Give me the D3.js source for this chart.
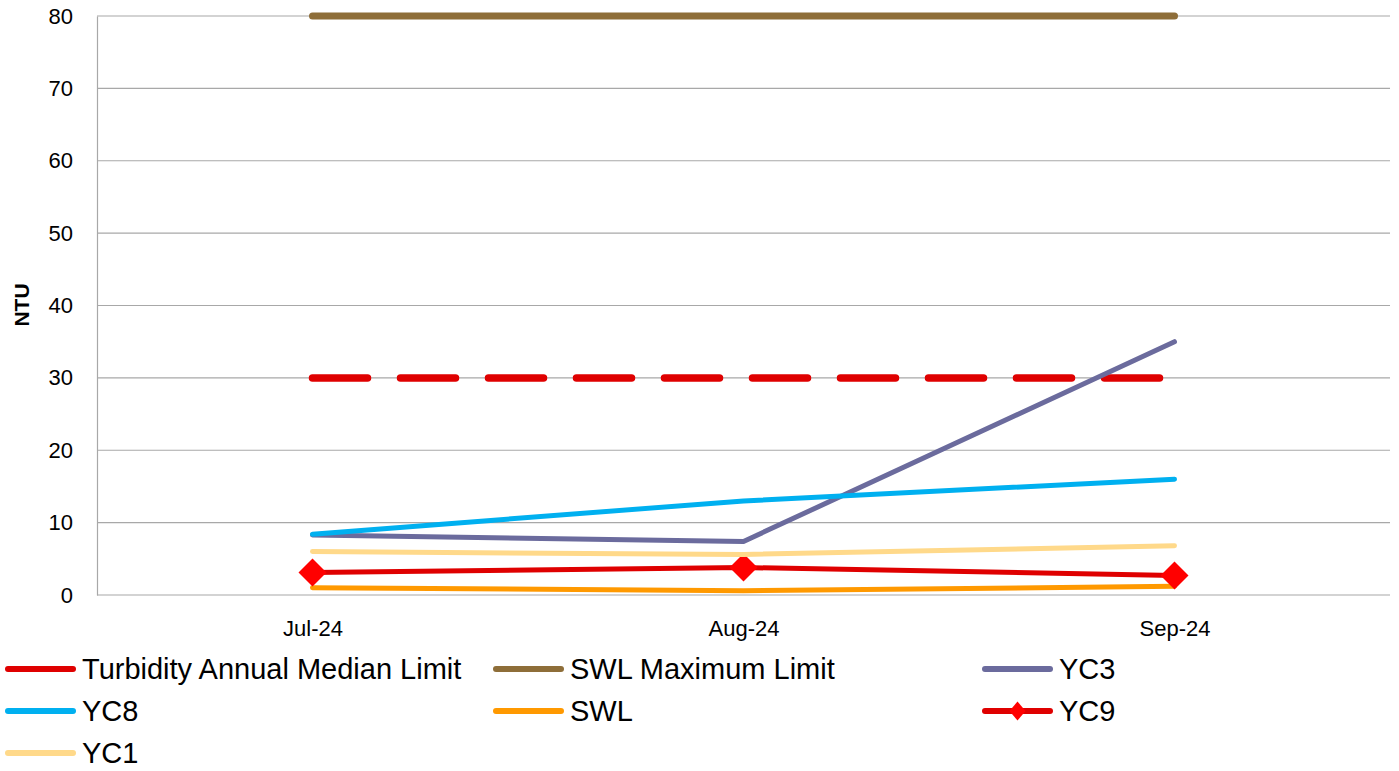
<!DOCTYPE html>
<html>
<head>
<meta charset="utf-8">
<script src="https://cdn.jsdelivr.net/npm/d3@7"></script>
<style>
  html, body { margin: 0; padding: 0; background: #ffffff; }
  svg { display: block; font-family: "Liberation Sans", Arial, sans-serif; }
</style>
</head>
<body>
<svg id="chart" width="1399" height="771"></svg>
<script>
// Monthly turbidity readings (NTU) by site, with the two regulatory limits
const months = ["Jul-24", "Aug-24", "Sep-24"];
const yTicks = [0, 10, 20, 30, 40, 50, 60, 70, 80];

const turbidityMedianLimit = [30, 30, 30];
const swlMaximumLimit = [80, 80, 80];
const yc3 = [8.3, 7.4, 35];
const yc8 = [8.4, 13, 16];
const swl = [1.0, 0.6, 1.2];
const yc9 = [3.1, 3.8, 2.7];
const yc1 = [6.0, 5.6, 6.8];

const seriesNames = ["Turbidity Annual Median Limit", "SWL Maximum Limit", "YC3", "YC8", "SWL", "YC9", "YC1"];

const series = [
  { name: seriesNames[0], values: turbidityMedianLimit, color: "#DF0000", width: 7.5, dash: "55,33" },
  { name: seriesNames[1], values: swlMaximumLimit, color: "#8E6E39", width: 7 },
  { name: seriesNames[2], values: yc3, color: "#6B6B9D", width: 5 },
  { name: seriesNames[3], values: yc8, color: "#00B0F0", width: 5 },
  { name: seriesNames[4], values: swl, color: "#FF9900", width: 5 },
  { name: seriesNames[5], values: yc9, color: "#DF0000", width: 5, marker: "#FF0000" },
  { name: seriesNames[6], values: yc1, color: "#FFD98A", width: 5 }
];

const svg = d3.select("#chart");
const plot = { left: 97, right: 1390, top: 16, bottom: 595 };

const x = d3.scalePoint().domain(months).range([plot.left, plot.right]).padding(0.5);
const y = d3.scaleLinear().domain([0, 80]).range([plot.bottom, plot.top]);

// Horizontal gridlines
svg.append("g")
  .selectAll("line")
  .data(yTicks)
  .join("line")
  .attr("x1", plot.left).attr("x2", plot.right)
  .attr("y1", d => y(d)).attr("y2", d => y(d))
  .attr("stroke", "#A8A8A8").attr("stroke-width", 1.2);

// Y axis line and labels
const yAxis = svg.append("g")
  .attr("transform", `translate(${plot.left},0)`)
  .call(d3.axisLeft(y).tickValues(yTicks).tickSize(0).tickPadding(24));
yAxis.select(".domain").attr("stroke", "#A8A8A8").attr("stroke-width", 1.2);
yAxis.selectAll("text")
  .attr("font-family", "Liberation Sans, Arial, sans-serif")
  .attr("font-size", 22).attr("fill", "#000");

// X axis labels
const xAxis = svg.append("g")
  .attr("transform", `translate(0,${plot.bottom})`)
  .call(d3.axisBottom(x).tickSize(0).tickPadding(25));
xAxis.select(".domain").remove();
xAxis.selectAll("text")
  .attr("font-family", "Liberation Sans, Arial, sans-serif")
  .attr("font-size", 22).attr("fill", "#000");

// Y axis title
svg.append("text")
  .attr("transform", "translate(29,305) rotate(-90)")
  .attr("text-anchor", "middle")
  .attr("font-size", 21).attr("font-weight", "bold")
  .text("NTU");

// Series lines
const line = d3.line()
  .x((d, i) => x(months[i]))
  .y(d => y(d));

const lines = svg.append("g");
series.forEach(s => {
  lines.append("path")
    .datum(s.values)
    .attr("d", line)
    .attr("fill", "none")
    .attr("stroke", s.color)
    .attr("stroke-width", s.width)
    .attr("stroke-linecap", "round")
    .attr("stroke-linejoin", "round")
    .attr("stroke-dasharray", s.dash || null);
  if (s.marker) {
    lines.append("g")
      .selectAll("path")
      .data(s.values)
      .join("path")
      .attr("d", "M0,-14L14,0L0,14L-14,0Z")
      .attr("transform", (d, i) => `translate(${x(months[i])},${y(d)})`)
      .attr("fill", s.marker);
  }
});

// Legend: three columns, filled row by row
const legendCols = [5, 493, 982];
const legendRows = [669, 711, 753];
const legend = svg.append("g");
series.forEach((s, i) => {
  const cx = legendCols[i % 3];
  const cy = legendRows[Math.floor(i / 3)];
  const g = legend.append("g").attr("transform", `translate(${cx},${cy})`);
  g.append("line")
    .attr("x1", 3).attr("x2", 68)
    .attr("stroke", s.color)
    .attr("stroke-width", 6)
    .attr("stroke-linecap", "round");
  if (s.marker) {
    g.append("path")
      .attr("d", "M0,-9.5L8,0L0,9.5L-8,0Z")
      .attr("transform", "translate(35.5,0)")
      .attr("fill", s.marker);
  }
  g.append("text")
    .attr("x", 77)
    .attr("dy", "0.35em")
    .attr("font-size", 29)
    .attr("fill", "#000")
    .text(s.name);
});
</script>
</body>
</html>
